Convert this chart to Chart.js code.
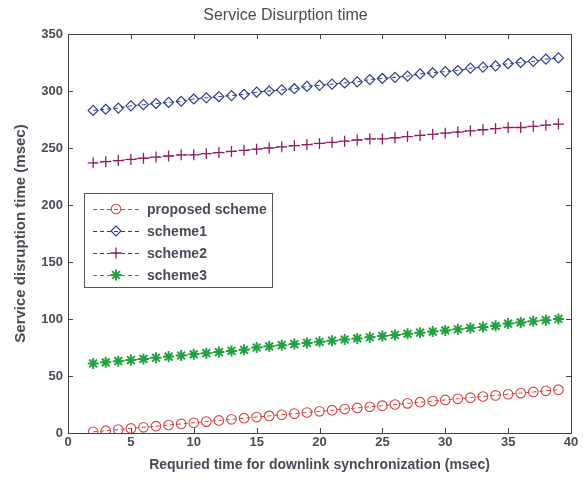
<!DOCTYPE html>
<html>
<head>
<meta charset="utf-8">
<script src="https://cdn.jsdelivr.net/npm/chart.js@4"></script>
<style>
  html, body { margin: 0; padding: 0; background: #fff; }
  #wrap { width: 583px; height: 479px; }
</style>
</head>
<body>
<div id="wrap"><canvas id="chart"></canvas></div>
<script>
// sync time (msec) on the x axis
const syncTimes = [2, 3, 4, 5, 6, 7, 8, 9, 10, 11, 12, 13, 14, 15, 16, 17, 18, 19, 20,
    21, 22, 23, 24, 25, 26, 27, 28, 29, 30, 31, 32, 33, 34, 35, 36, 37, 38, 39];

const proposedScheme = [1, 2, 3, 4, 5, 6, 7, 8, 9, 10, 11, 12, 13, 14, 15, 16, 17, 18, 19,
    20, 21, 22, 23, 24, 25, 26, 27, 28, 29, 30, 31, 32, 33, 34, 35, 36, 37, 38];
const scheme1 = [283, 284, 285, 287, 288, 289, 290, 291, 293, 294, 295, 296, 297, 299, 300, 301, 302, 304, 305,
    306, 307, 308, 310, 311, 312, 313, 315, 316, 317, 318, 320, 321, 322, 324, 325, 326, 328, 329];
const scheme2 = [237, 238, 239, 240, 241, 242, 243, 244, 244, 245, 246, 247, 248, 249, 250, 251, 252, 253, 254,
    255, 256, 257, 258, 258, 259, 260, 261, 262, 263, 264, 265, 266, 267, 268, 268, 269, 270, 271];
const scheme3 = [61, 62, 63, 64, 65, 66, 67, 68, 69, 70, 71, 72, 73, 75, 76, 77, 78, 79, 80,
    81, 82, 83, 84, 85, 86, 87, 88, 89, 90, 91, 92, 93, 94, 96, 97, 98, 99, 100];

const seriesNames = ['proposed scheme', 'scheme1', 'scheme2', 'scheme3'];
const xTicks = [0, 5, 10, 15, 20, 25, 30, 35, 40];
const yTicks = [0, 50, 100, 150, 200, 250, 300, 350];

const FONT = '"Liberation Sans", Arial, sans-serif';
const TEXT = '#4a4a58';

function toPoints(values) {
    return values.map((v, i) => ({ x: syncTimes[i], y: v }));
}

function makeSet(label, values, color, style, radius, width) {
    return {
        label: label,
        data: toPoints(values),
        borderColor: color,
        backgroundColor: color,
        borderWidth: 1,
        borderDash: [4, 3],
        pointStyle: style,
        pointRadius: radius,
        pointBorderColor: color,
        pointBackgroundColor: 'rgba(0,0,0,0)',
        pointBorderWidth: width,
        tension: 0
    };
}

// inside tick marks + box frame, like matlab
const frame = {
    id: 'frame',
    afterDatasetsDraw(chart) {
        const ctx = chart.ctx;
        const a = chart.chartArea;
        const xs = chart.scales.x, ys = chart.scales.y;
        ctx.save();
        ctx.strokeStyle = '#444';
        ctx.lineWidth = 1;
        ctx.beginPath();
        xTicks.forEach(t => {
            const px = Math.round(xs.getPixelForValue(t)) + 0.5;
            ctx.moveTo(px, a.bottom); ctx.lineTo(px, a.bottom - 5);
            ctx.moveTo(px, a.top); ctx.lineTo(px, a.top + 5);
        });
        yTicks.forEach(t => {
            const py = Math.round(ys.getPixelForValue(t)) + 0.5;
            ctx.moveTo(a.left, py); ctx.lineTo(a.left + 5, py);
            ctx.moveTo(a.right, py); ctx.lineTo(a.right - 5, py);
        });
        ctx.stroke();
        ctx.strokeRect(Math.round(a.left) + 0.5, Math.round(a.top) + 0.5,
            Math.round(a.right - a.left), Math.round(a.bottom - a.top));
        ctx.restore();
    }
};

// legend box with dashed line and marker in middle
const boxLegend = {
    id: 'boxLegend',
    afterDraw(chart) {
        const ctx = chart.ctx;
        const left = 84, top = 193, w = 188, h = 94;
        ctx.save();
        ctx.fillStyle = '#fff';
        ctx.fillRect(left, top, w, h);
        ctx.strokeStyle = '#555';
        ctx.lineWidth = 1;
        ctx.strokeRect(left + 0.5, top + 0.5, w, h);
        chart.data.datasets.forEach((ds, i) => {
            const y = top + 16 + i * 22;
            ctx.strokeStyle = ds.borderColor;
            ctx.lineWidth = 1;
            ctx.setLineDash([4, 3]);
            ctx.beginPath();
            ctx.moveTo(93, y + 0.5);
            ctx.lineTo(139, y + 0.5);
            ctx.stroke();
            ctx.setLineDash([]);
            ctx.fillStyle = 'rgba(0,0,0,0)';
            ctx.lineWidth = ds.pointBorderWidth;
            Chart.helpers.drawPoint(ctx, {
                pointStyle: ds.pointStyle,
                radius: ds.pointRadius,
                rotation: 0,
                borderWidth: ds.pointBorderWidth
            }, 116, y);
            ctx.fillStyle = TEXT;
            ctx.font = 'bold 14px ' + FONT;
            ctx.textBaseline = 'middle';
            ctx.fillText(ds.label, 147, y + 1);
        });
        ctx.restore();
    }
};

new Chart(document.getElementById('chart'), {
    type: 'line',
    data: {
        datasets: [
            makeSet(seriesNames[0], proposedScheme, '#d8403c', 'circle', 4.8, 1.1),
            makeSet(seriesNames[1], scheme1, '#2d3f8e', 'rectRot', 5, 1.2),
            makeSet(seriesNames[2], scheme2, '#8e1f63', 'cross', 5.5, 1.3),
            makeSet(seriesNames[3], scheme3, '#23a040', 'star', 5.5, 2)
        ]
    },
    options: {
        responsive: true,
        maintainAspectRatio: false,
        animation: false,
        layout: { padding: { left: 0, right: 12, top: 0, bottom: 0 } },
        plugins: {
            legend: { display: false },
            tooltip: { enabled: false },
            title: {
                display: true,
                text: 'Service Disurption time',
                color: TEXT,
                font: { family: FONT, size: 16, weight: 'normal', lineHeight: 1.2 },
                padding: { top: 6, bottom: 8.8 }
            }
        },
        scales: {
            x: {
                type: 'linear',
                min: 0,
                max: 40,
                afterBuildTicks(scale) { scale.ticks = xTicks.map(v => ({ value: v })); },
                afterFit(scale) { scale.height = 46; },
                grid: { display: false, drawTicks: false },
                border: { display: false },
                ticks: {
                    color: TEXT,
                    padding: 2,
                    maxRotation: 0,
                    font: { family: FONT, size: 13, weight: 'bold' }
                },
                title: {
                    display: true,
                    text: 'Requried time for downlink synchronization (msec)',
                    color: TEXT,
                    font: { family: FONT, size: 14, weight: 'bold' },
                    padding: { top: 4, bottom: 5 }
                }
            },
            y: {
                type: 'linear',
                min: 0,
                max: 350,
                afterBuildTicks(scale) { scale.ticks = yTicks.map(v => ({ value: v })); },
                afterFit(scale) { scale.width = 68; },
                grid: { display: false, drawTicks: false },
                border: { display: false },
                ticks: {
                    color: TEXT,
                    padding: 5,
                    font: { family: FONT, size: 13, weight: 'bold' }
                },
                title: {
                    display: true,
                    text: 'Service disruption time (msec)',
                    color: TEXT,
                    font: { family: FONT, size: 15, weight: 'bold' },
                    padding: { top: 12, bottom: 2 }
                }
            }
        }
    },
    plugins: [frame, boxLegend]
});
</script>
</body>
</html>
